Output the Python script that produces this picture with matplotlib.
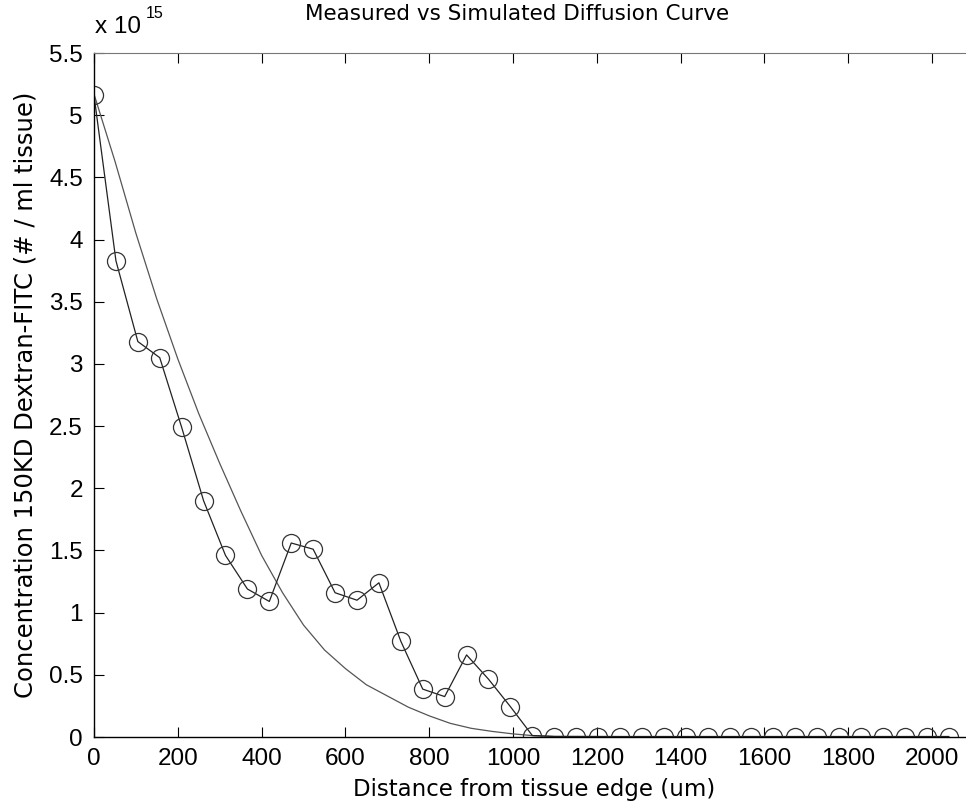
import numpy as np
import matplotlib
matplotlib.use("Agg")
import matplotlib.pyplot as plt
from matplotlib.ticker import MultipleLocator, FuncFormatter

plt.rcParams['font.family'] = ['Liberation Sans', 'DejaVu Sans']

# measured profile, one point every ~52.3 um (units of 1e15 #/ml)
step_um = 52.3
measured = [5.16, 3.83, 3.18, 3.05, 2.49, 1.90, 1.46, 1.19, 1.09, 1.56,
            1.51, 1.16, 1.10, 1.24, 0.77, 0.385, 0.325, 0.66, 0.465, 0.244,
            0.012, 0.004, 0.004, 0.004, 0.004, 0.004, 0.004, 0.004, 0.004, 0.004,
            0.004, 0.004, 0.004, 0.004, 0.004, 0.004, 0.004, 0.004, 0.004, 0.004]
meas_x = [i * step_um for i in range(len(measured))]

# simulated diffusion curve
sim_x = [0, 50, 100, 150, 200, 250, 300, 350, 400, 450, 500, 550, 600, 650,
         700, 750, 800, 850, 900, 950, 1000, 1050, 1100, 1500, 2040]
sim_y = [5.17, 4.63, 4.05, 3.52, 3.04, 2.60, 2.20, 1.82, 1.46, 1.16, 0.90,
         0.70, 0.55, 0.42, 0.33, 0.24, 0.17, 0.11, 0.07, 0.045, 0.025, 0.01,
         0.005, 0.0, 0.0]

scale = 1e15
W, H = 966, 805
fig = plt.figure(figsize=(W / 100, H / 100), dpi=100)
ax = fig.add_axes([94 / W, (H - 737) / H, 880 / W, (737 - 53) / H])

ax.plot(sim_x, np.array(sim_y) * scale, color='#555555', lw=0.9)
ax.plot(meas_x, np.array(measured) * scale, color='#222222', lw=0.9,
        marker='o', ms=13, mfc='none', mec='#333333', mew=0.9)

ax.set_xlim(0, 2100)
ax.set_ylim(0, 5.5e15)
ax.xaxis.set_major_locator(MultipleLocator(200))
ax.yaxis.set_major_locator(MultipleLocator(0.5e15))
ax.yaxis.set_major_formatter(FuncFormatter(lambda v, p: '%g' % (v / scale)))
ax.xaxis.set_major_formatter(FuncFormatter(lambda v, p: '%g' % v))
ax.tick_params(direction='in', length=7, width=0.8, labelsize=17.5,
               top=True, right=False, pad=8)
for s in ['left', 'bottom']:
    ax.spines[s].set_linewidth(1.0)
ax.spines['top'].set_color('#777777')
ax.spines['top'].set_linewidth(0.8)

lab = ['DejaVu Sans']
ax.set_xlabel('Distance from tissue edge (um)', fontsize=16.5, labelpad=6,
              family=lab)
ax.set_ylabel('Concentration 150KD Dextran-FITC (# / ml tissue)', fontsize=17.5,
              labelpad=8, family=lab)

fig.text(517 / W, 1 - 14 / H, 'Measured vs Simulated Diffusion Curve',
         fontsize=15.5, ha='center', va='center', family=lab)
fig.text(95 / W, 1 - 27 / H, 'x 10', fontsize=17.5, ha='left', va='center')
fig.text(146 / W, 1 - 14 / H, '15', fontsize=11.5, ha='left', va='center')

fig.savefig('out.png', dpi=100)
